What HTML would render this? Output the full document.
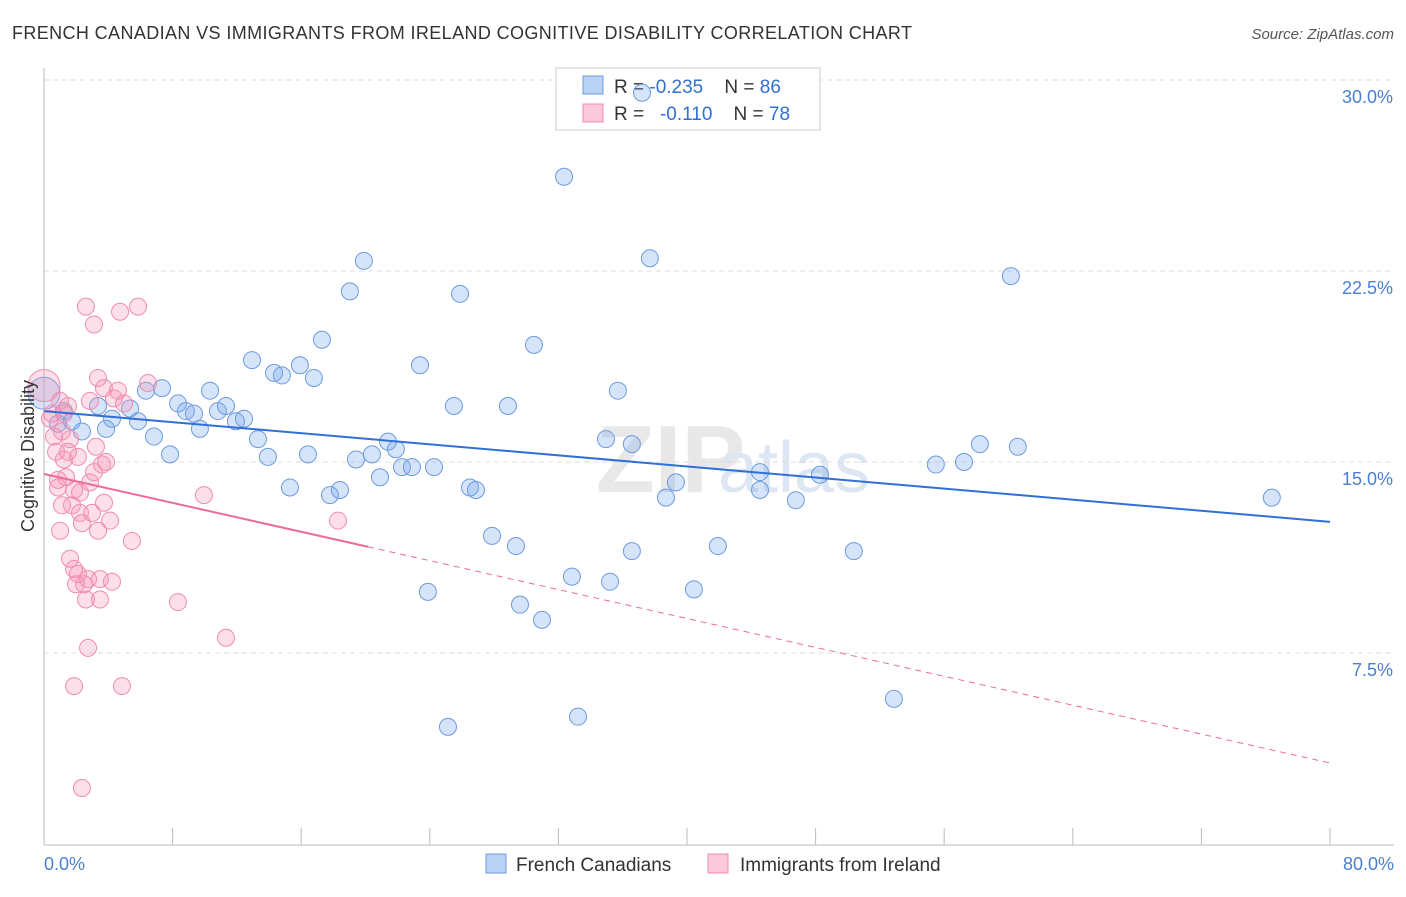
<!DOCTYPE html>
<html><head><meta charset="utf-8">
<style>
body{margin:0;background:#fff;font-family:"Liberation Sans",sans-serif;}
svg text{font-family:"Liberation Sans",sans-serif;white-space:pre;}
</style></head>
<body>
<svg id="chart" width="1406" height="892">
<text x="12" y="39" font-size="18" fill="#333" textLength="900" lengthAdjust="spacing">FRENCH CANADIAN VS IMMIGRANTS FROM IRELAND COGNITIVE DISABILITY CORRELATION CHART</text>
<text x="1394" y="39" font-size="15" fill="#555" font-style="italic" text-anchor="end">Source: ZipAtlas.com</text>
<text x="596" y="492" font-size="96" fill="#e8e8e8" font-weight="bold">ZIP</text>
<text x="718" y="492" font-size="72" fill="#dde6f3">atlas</text>
<g id="grid"></g>
<g id="axes"></g>
<g>
<rect x="556" y="68" width="264" height="62" fill="#fff" stroke="#ccc"/>
<rect x="583" y="76" width="20" height="18" fill="#b9d2f5" stroke="#6c9be0"/>
<rect x="583" y="104" width="20" height="18" fill="#fbc9d9" stroke="#f08cb0"/>
<text x="614" y="93" font-size="19" fill="#333" xml:space="preserve">R = <tspan fill="#2f6fd6">-0.235</tspan>    N = <tspan fill="#2f6fd6">86</tspan></text>
<text x="614" y="120" font-size="19" fill="#333" xml:space="preserve">R =   <tspan fill="#2f6fd6">-0.110</tspan>    N = <tspan fill="#2f6fd6">78</tspan></text>
</g>
<g id="pts"></g>
<g id="trend"></g>
<text x="34" y="456" font-size="18" fill="#333" text-anchor="middle" transform="rotate(-90 34 456)">Cognitive Disability</text>
<text x="44" y="870" font-size="18" fill="#4a7fd4">0.0%</text>
<text x="1394" y="870" font-size="18" fill="#4a7fd4" text-anchor="end">80.0%</text>
<g>
<rect x="486" y="854" width="20" height="19" fill="#b9d2f5" stroke="#6c9be0"/>
<text x="516" y="871" font-size="19" fill="#333">French Canadians</text>
</g>
<g>
<rect x="708" y="854" width="20" height="19" fill="#fbc9d9" stroke="#f08cb0"/>
<text x="740" y="871" font-size="19" fill="#333">Immigrants from Ireland</text>
</g>
</svg>
<script>
const yTicks=[7.5,15,22.5,30];
const yTickLabels=["7.5%","15.0%","22.5%","30.0%"];
const xTicks=[0,8,16,24,32,40,48,56,64,72,80];
const blueX=[0,1.24,0.87,1.74,3.36,4.23,3.86,2.36,5.35,5.85,6.34,6.84,7.34,7.84,8.34,8.83,9.33,9.7,10.33,10.82,11.32,11.94,12.44,12.94,13.31,13.93,14.31,14.8,15.3,15.92,16.42,16.79,17.29,17.79,18.41,19.03,19.41,19.9,20.4,20.9,21.4,21.89,22.27,22.89,23.39,23.88,24.26,25.13,25.5,25.88,26.5,26.87,27.87,28.86,29.36,29.61,30.48,30.98,32.35,32.84,33.22,34.96,35.21,35.7,36.57,36.57,37.2,37.69,38.69,39.31,40.43,41.92,44.54,44.54,46.77,48.27,50.38,52.87,55.48,57.23,58.22,60.15,60.58,76.38];
const blueY=[17.7,17.0,16.5,16.6,17.2,16.7,16.3,16.2,17.1,16.6,17.8,16.0,17.9,15.3,17.3,17.0,16.9,16.3,17.8,17.0,17.2,16.6,16.7,19.0,15.9,15.2,18.5,18.4,14.0,18.8,15.3,18.3,19.8,13.7,13.9,21.7,15.1,22.9,15.3,14.4,15.8,15.5,14.8,14.8,18.8,9.9,14.8,4.6,17.2,21.6,14.0,13.9,12.1,17.2,11.7,9.4,19.6,8.8,26.2,10.5,5.0,15.9,10.3,17.8,11.5,15.7,29.5,23.0,13.6,14.2,10.0,11.7,14.6,13.9,13.5,14.5,11.5,5.7,14.9,15.0,15.7,22.3,15.6,13.6];
const pinkX=[0,0.37,0.62,0.75,1.0,1.12,0.87,1.24,1.0,1.49,1.62,1.37,1.74,1.87,1.87,1.99,2.11,2.24,2.36,2.49,2.61,2.74,2.86,2.99,3.11,3.11,3.23,3.36,3.36,3.48,3.61,3.73,3.73,3.86,4.11,4.23,4.35,4.6,4.73,4.85,4.98,5.47,5.85,6.47,8.33,9.95,11.32,18.29,1.87,2.36,2.74,2.61,3.48,1.62,2.11,0.87,1.12,2.24,1.49,2.86,0.5,1.24];
const pinkY=[18.0,16.7,16.0,15.4,17.4,16.2,14.0,15.1,12.3,17.2,15.9,14.4,13.3,13.9,10.8,10.2,15.2,13.0,12.6,10.2,21.1,10.4,14.2,13.0,14.6,20.4,15.6,18.3,12.3,10.4,14.9,17.9,13.4,15.0,12.7,10.3,17.5,17.8,20.9,6.2,17.3,11.9,21.1,18.1,9.5,13.7,8.1,12.7,6.2,2.2,7.7,9.6,9.6,11.2,10.6,14.3,13.3,13.8,15.4,17.4,16.9,16.9];
const blueTrend=[17.0,12.65];
const pinkTrend=[14.53,3.18];
const pinkSolidEnd=20.15;

const NS="http://www.w3.org/2000/svg";
const X=v=>44+v/80*1286;
const Y=v=>844-v/7.5*191;
function mk(tag,attrs,parent){const e=document.createElementNS(NS,tag);for(const k in attrs)e.setAttribute(k,attrs[k]);document.getElementById(parent).appendChild(e);return e;}

yTicks.forEach((t,i)=>{
  const l=mk('line',{x1:44,x2:1394,y1:Y(t),y2:Y(t),stroke:'#ddd','stroke-dasharray':'5,4'},'grid');
  
  
  const tx=mk('text',{x:1393,y:Y(t)+23,'font-size':18,fill:'#4a7fd4','text-anchor':'end'},'grid');
  tx.textContent=yTickLabels[i];
  
  
});
const ax=mk('line',{x1:44,x2:1394,y1:845,y2:845,stroke:'#bbb'},'axes');


const ay=mk('line',{x1:44,x2:44,y1:68,y2:845,stroke:'#bbb'},'axes');


xTicks.forEach(t=>{
  const l=mk('line',{x1:X(t),x2:X(t),y1:828,y2:845,stroke:'#bbb'},'axes');
  
  
});
function dots(xs,ys,fill,stroke,name){
  xs.forEach((x,i)=>{
    const c=mk('circle',{cx:X(x),cy:Y(ys[i]),r:i===0?16:8.5,fill:fill,stroke:stroke,'stroke-width':1},'pts');
    
    
  });
}
dots(blueX,blueY,'rgba(120,165,235,0.3)','#6c9be0','french-canadian-point');
dots(pinkX,pinkY,'rgba(245,150,180,0.3)','#f08cb0','ireland-point');
const bt=mk('line',{x1:X(0),y1:Y(blueTrend[0]),x2:X(80),y2:Y(blueTrend[1]),stroke:'#2f6fd6','stroke-width':2},'trend');


const py=x=>pinkTrend[0]+(pinkTrend[1]-pinkTrend[0])*x/80;
const ps=mk('line',{x1:X(0),y1:Y(py(0)),x2:X(pinkSolidEnd),y2:Y(py(pinkSolidEnd)),stroke:'#ec6b97','stroke-width':2},'trend');


const pd=mk('line',{x1:X(pinkSolidEnd),y1:Y(py(pinkSolidEnd)),x2:X(80),y2:Y(py(80)),stroke:'#ec6b97','stroke-width':1,'stroke-dasharray':'6,5'},'trend');


</script>
</body></html>
